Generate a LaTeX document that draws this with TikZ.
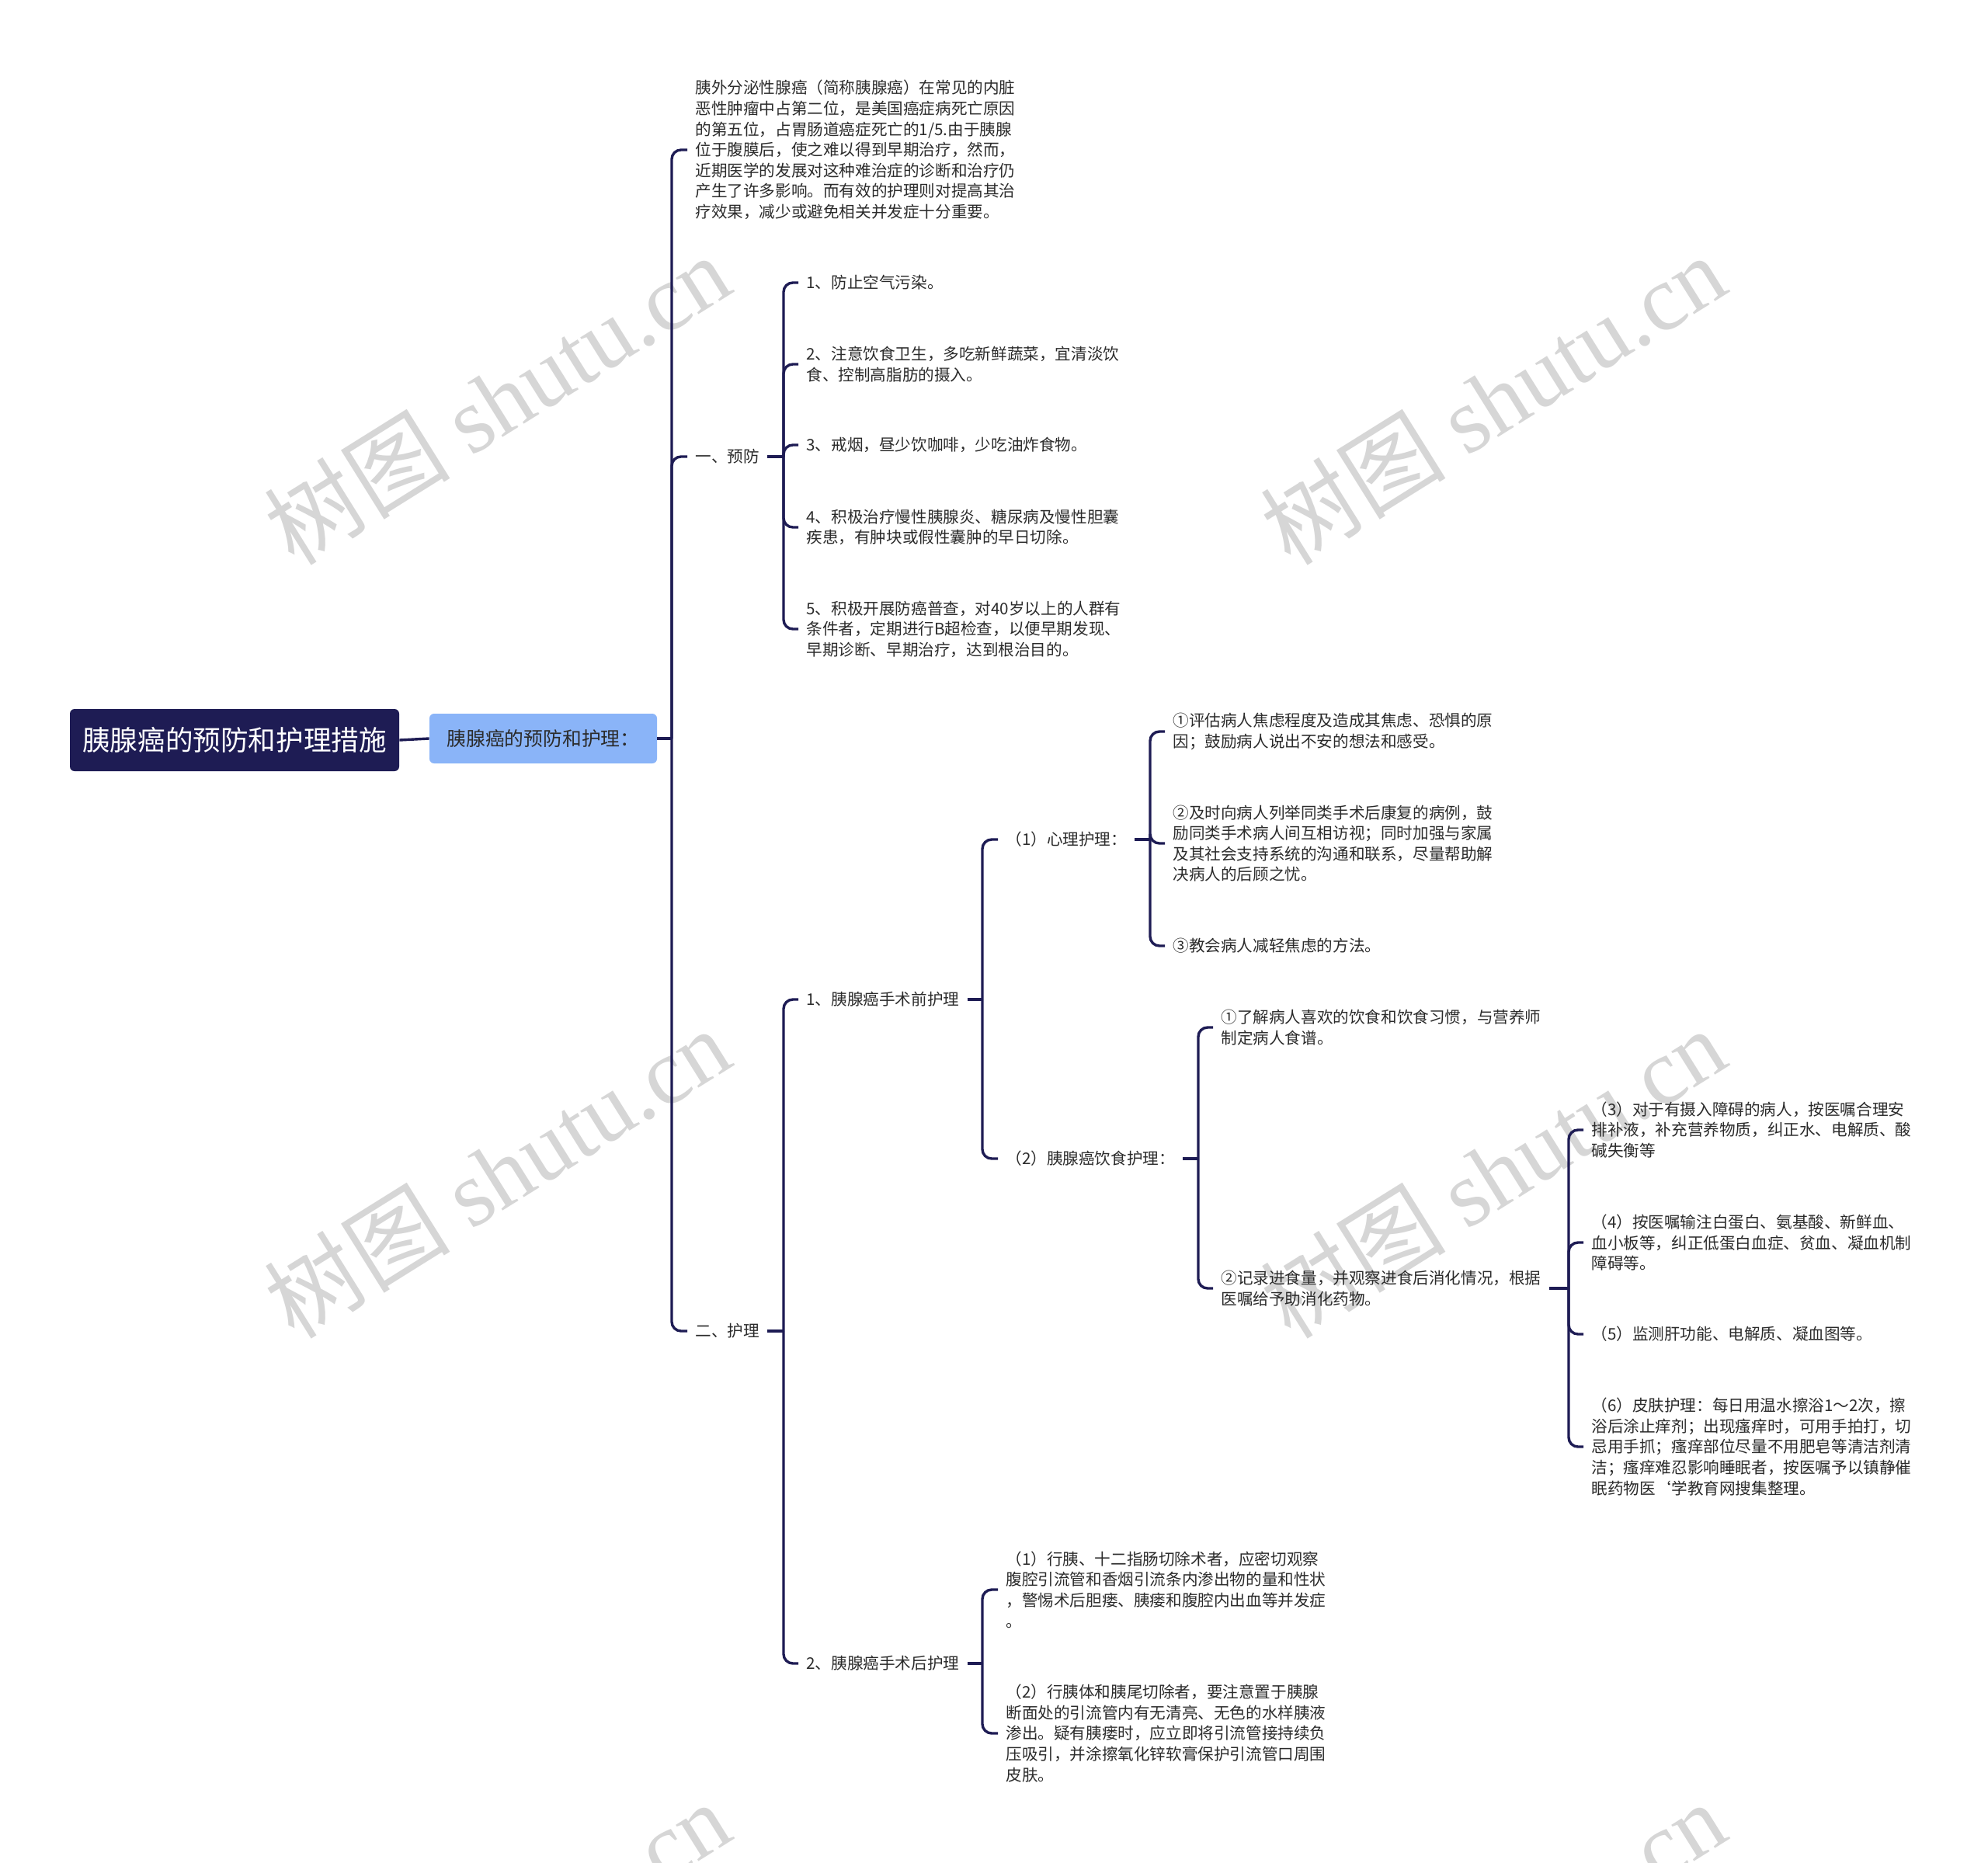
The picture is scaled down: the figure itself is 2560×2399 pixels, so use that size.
\documentclass[tikz,border=0pt]{standalone}
\usepackage{fontspec}
\setmainfont{Noto Sans CJK SC}
\newfontfamily\wmlatin{Liberation Serif}
\definecolor{navy}{HTML}{1E1C54}
\definecolor{lblue}{HTML}{8AB4F8}
\definecolor{txtc}{HTML}{2B2B2B}
\definecolor{wmc}{HTML}{D6D6D6}
\begin{document}
\begin{tikzpicture}[x=0.5pt,y=-0.5pt,
  conn/.style={draw=navy,line width=1.7pt,rounded corners=6pt},
  leaf/.style={anchor=west,align=left,inner xsep=5pt,inner ysep=1pt,text=txtc,font=\fontsize{10.3pt}{13.3pt}\selectfont},
  rootbox/.style={fill=navy,text=white,rounded corners=3pt,minimum width=212pt,minimum height=40pt,inner sep=0pt,font=\fontsize{17.8pt}{20pt}\selectfont},
  secbox/.style={fill=lblue,text=txtc,rounded corners=3pt,minimum width=146.5pt,minimum height=32pt,inner sep=0pt,font=\fontsize{12.4pt}{15pt}\selectfont},
  wmark/.style={rotate=32,text=wmc,font=\fontsize{60pt}{70pt}\selectfont,inner sep=0pt}
]
\useasboundingbox (0,0) rectangle (2560,2399);
\begin{scope}
\clip (0,0) rectangle (2560,2399);
\foreach \wx/\wy/\wn in {640/514/a,1922/514/b,640/1510/c,1922/1510/d,640/2506/e,1922/2506/f}
  \node[wmark] (wm\wn) at (\wx,\wy) {树图 {\wmlatin shutu.cn}};
\end{scope}

% nodes
\node[rootbox] (root) at (302,953) {胰腺癌的预防和护理措施};
\node[secbox] (sec) at (699.5,951) {胰腺癌的预防和护理：};

\node[leaf] (intro) at (885,193) {胰外分泌性腺癌（简称胰腺癌）在常见的内脏\\恶性肿瘤中占第二位，是美国癌症病死亡原因\\的第五位，占胃肠道癌症死亡的1/5.由于胰腺\\位于腹膜后，使之难以得到早期治疗，然而，\\近期医学的发展对这种难治症的诊断和治疗仍\\产生了许多影响。而有效的护理则对提高其治\\疗效果，减少或避免相关并发症十分重要。};
\node[leaf] (yf) at (885,588) {一、预防};
\node[leaf] (hl) at (885,1714) {二、护理};

\node[leaf] (p1) at (1028,364) {1、防止空气污染。};
\node[leaf] (p2) at (1028,469) {2、注意饮食卫生，多吃新鲜蔬菜，宜清淡饮\\食、控制高脂肪的摄入。};
\node[leaf] (p3) at (1028,573) {3、戒烟，昼少饮咖啡，少吃油炸食物。};
\node[leaf] (p4) at (1028,679) {4、积极治疗慢性胰腺炎、糖尿病及慢性胆囊\\疾患，有肿块或假性囊肿的早日切除。};
\node[leaf] (p5) at (1028,810) {5、积极开展防癌普查，对40岁以上的人群有\\条件者，定期进行B超检查，以便早期发现、\\早期诊断、早期治疗，达到根治目的。};

\node[leaf] (pre) at (1028,1287) {1、胰腺癌手术前护理};
\node[leaf] (post) at (1028,2142) {2、胰腺癌手术后护理};

\node[leaf] (xl) at (1285,1081) {（1）心理护理：};
\node[leaf] (ys) at (1285,1492) {（2）胰腺癌饮食护理：};
\node[leaf] (q1) at (1285,2047) {（1）行胰、十二指肠切除术者，应密切观察\\腹腔引流管和香烟引流条内渗出物的量和性状\\，警惕术后胆瘘、胰瘘和腹腔内出血等并发症\\。};
\node[leaf] (q2) at (1285,2232) {（2）行胰体和胰尾切除者，要注意置于胰腺\\断面处的引流管内有无清亮、无色的水样胰液\\渗出。疑有胰瘘时，应立即将引流管接持续负\\压吸引，并涂擦氧化锌软膏保护引流管口周围\\皮肤。};

\node[leaf] (x1) at (1500,942) {①评估病人焦虑程度及造成其焦虑、恐惧的原\\因；鼓励病人说出不安的想法和感受。};
\node[leaf] (x2) at (1500,1086) {②及时向病人列举同类手术后康复的病例，鼓\\励同类手术病人间互相访视；同时加强与家属\\及其社会支持系统的沟通和联系，尽量帮助解\\决病人的后顾之忧。};
\node[leaf] (x3) at (1500,1218) {③教会病人减轻焦虑的方法。};

\node[leaf] (y1) at (1562,1323) {①了解病人喜欢的饮食和饮食习惯，与营养师\\制定病人食谱。};
\node[leaf] (y2) at (1562,1659) {②记录进食量，并观察进食后消化情况，根据\\医嘱给予助消化药物。};

\node[leaf] (r3) at (2039,1455) {（3）对于有摄入障碍的病人，按医嘱合理安\\排补液，补充营养物质，纠正水、电解质、酸\\碱失衡等};
\node[leaf] (r4) at (2039,1600) {（4）按医嘱输注白蛋白、氨基酸、新鲜血、\\血小板等，纠正低蛋白血症、贫血、凝血机制\\障碍等。};
\node[leaf] (r5) at (2039,1718) {（5）监测肝功能、电解质、凝血图等。};
\node[leaf] (r6) at (2039,1863) {（6）皮肤护理：每日用温水擦浴1～2次，擦\\浴后涂止痒剂；出现瘙痒时，可用手拍打，切\\忌用手抓；瘙痒部位尽量不用肥皂等清洁剂清\\洁；瘙痒难忍影响睡眠者，按医嘱予以镇静催\\眠药物医\symbol{96}学教育网搜集整理。};

% spine points
\coordinate (s1) at (865,951);
\coordinate (s2a) at (1009,588);
\coordinate (s2b) at (1009,1714);
\coordinate (s3a) at (1265,1287);
\coordinate (s3b) at (1265,2142);
\coordinate (s4) at (1481,1081);
\coordinate (s5) at (1543,1492);
\coordinate (s6) at (2020,1659);

% connectors
\draw[conn] (root.east) -- (sec.west);
\draw[conn] (sec.east) -- (s1);
\foreach \c in {intro,yf,hl} \draw[conn] (s1) |- (\c.west);
\draw[conn] (yf.east) -- (s2a);
\foreach \c in {p1,p2,p3,p4,p5} \draw[conn] (s2a) |- (\c.west);
\draw[conn] (hl.east) -- (s2b);
\foreach \c in {pre,post} \draw[conn] (s2b) |- (\c.west);
\draw[conn] (pre.east) -- (s3a);
\foreach \c in {xl,ys} \draw[conn] (s3a) |- (\c.west);
\draw[conn] (post.east) -- (s3b);
\foreach \c in {q1,q2} \draw[conn] (s3b) |- (\c.west);
\draw[conn] (xl.east) -- (s4);
\foreach \c in {x1,x2,x3} \draw[conn] (s4) |- (\c.west);
\draw[conn] (ys.east) -- (s5);
\foreach \c in {y1,y2} \draw[conn] (s5) |- (\c.west);
\draw[conn] (y2.east) -- (s6);
\foreach \c in {r3,r4,r5,r6} \draw[conn] (s6) |- (\c.west);
\end{tikzpicture}
\end{document}
